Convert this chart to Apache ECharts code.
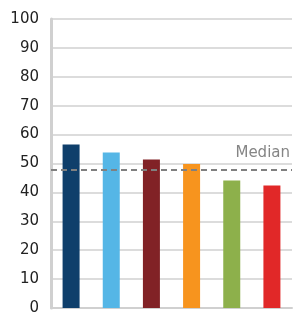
<!DOCTYPE html>
<html>
<head>
<meta charset="utf-8">
<script src="https://cdn.jsdelivr.net/npm/echarts@6/dist/echarts.min.js"></script>
<style>
  html, body { margin: 0; padding: 0; background: #fff; }
  #chart { width: 301px; height: 312px; }
</style>
</head>
<body>
<div id="chart"></div>
<script>
// values
const categories = ['A', 'B', 'C', 'D', 'E', 'F'];
const values = [56.6, 53.8, 51.4, 49.8, 44.1, 42.4];
const barColors = ['#0f3f6b', '#55b6e6', '#812226', '#f7941e', '#8db04b', '#e12828'];
const medianValue = 48;
const yTicks = [0, 100, 10]; // min, max, interval

const chart = echarts.init(document.getElementById('chart'));

const option = {
  animation: false,
  grid: { left: 51, right: 9, top: 19, bottom: 4, containLabel: false, outerBoundsMode: 'none' },
  xAxis: {
    type: 'category',
    data: categories,
    axisLine: { show: true, lineStyle: { color: '#d0d0d0', width: 2 } },
    axisTick: { show: false },
    axisLabel: { show: false }
  },
  yAxis: {
    type: 'value',
    min: yTicks[0],
    max: yTicks[1],
    interval: yTicks[2],
    axisLine: { show: true, lineStyle: { color: '#d0d0d0', width: 3 } },
    axisTick: { show: false },
    axisLabel: {
      color: '#222',
      fontFamily: 'DejaVu Sans',
      fontSize: 15,
      margin: 12
    },
    splitLine: { lineStyle: { color: '#dcdcdc', width: 2 } }
  },
  series: [{
    type: 'bar',
    barWidth: 17,
    data: values.map((v, i) => ({ value: v, itemStyle: { color: barColors[i] } })),
    markLine: {
      silent: true,
      symbol: 'none',
      lineStyle: { color: '#808080', type: [6, 4], width: 2 },
      label: {
        position: 'insideEndTop',
        formatter: 'Median',
        color: '#858585',
        fontFamily: 'DejaVu Sans',
        fontSize: 15,
        distance: [2, 9]
      },
      data: [{ yAxis: medianValue }]
    }
  }]
};

chart.setOption(option);
</script>
</body>
</html>
